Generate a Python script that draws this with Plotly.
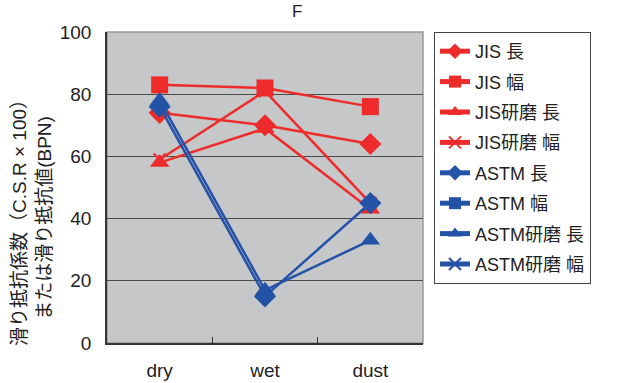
import plotly.graph_objects as go

categories = ["dry", "wet", "dust"]
series_names = ["JIS 長", "JIS 幅", "JIS研磨 長", "JIS研磨 幅",
                "ASTM 長", "ASTM 幅", "ASTM研磨 長", "ASTM研磨 幅"]
jis_long = [74, 70, 64]
jis_wide = [83, 82, 76]
jis_pol_long = [58, 69, 43]
jis_pol_wide = [59, 81, 45]
astm_long = [76, 15, 45]
astm_wide = [None, None, None]
astm_pol_long = [78, 17, 33]
astm_pol_wide = [None, None, None]
yticks = [0, 20, 40, 60, 80, 100]

values = [jis_long, jis_wide, jis_pol_long, jis_pol_wide,
          astm_long, astm_wide, astm_pol_long, astm_pol_wide]
RED = "#EE2B2B"
BLUE = "#2352A6"
colors = [RED] * 4 + [BLUE] * 4
symbols = ["diamond", "square", "triangle-up", "x-thin"] * 2
sizes = [17, 17, 17, 12] * 2

FONT = "Liberation Sans, Noto Sans CJK JP, sans-serif"

L, R, T, B = 107, 210, 32, 40
PW, PH = 633 - L - R, 383 - T - B

fig = go.Figure()
for i, (name, vals) in enumerate(zip(series_names, values)):
    fig.add_trace(go.Scatter(
        x=categories, y=vals, name=name, mode="lines+markers",
        line=dict(color=colors[i], width=2.5),
        marker=dict(symbol=symbols[i], size=sizes[i], color=colors[i],
                    line=dict(color=colors[i], width=2 if symbols[i] == "x-thin" else 0)),
        legendgroup=f"g{i}",
    ))

fig.update_layout(
    width=633, height=383,
    margin=dict(l=L, r=R, t=T, b=B, autoexpand=False),
    paper_bgcolor="white",
    plot_bgcolor="#C6C7C9",
    font=dict(family=FONT, size=18, color="#222222"),
    showlegend=True,
    legend=dict(
        x=(434 - L) / PW, y=1.0, xanchor="left", yanchor="top",
        bordercolor="#444444", borderwidth=1,
        font=dict(size=18, family=FONT),
        tracegroupgap=4,
        itemsizing="constant",
    ),
    annotations=[
        dict(text="F", x=(297 - L) / PW, y=(383 - B - 12) / PH, xref="paper", yref="paper",
             showarrow=False, yanchor="middle", font=dict(size=17, family=FONT)),
        dict(text="滑り抵抗係数（C.S.R × 100）<br>または滑り抵抗値(BPN)",
             x=(32 - L) / PW, y=(383 - B - 218) / PH, xref="paper", yref="paper",
             showarrow=False, textangle=-90, xanchor="center", yanchor="middle",
             font=dict(size=19, family=FONT)),
    ],
)

fig.update_xaxes(
    type="category", range=[-0.5, 2.5], automargin=False,
    showline=True, linecolor="#333333", linewidth=1.5, mirror=False,
    ticks="inside", tickson="boundaries", ticklen=6, tickcolor="#333333",
    showgrid=False, ticklabelstandoff=9,
    tickfont=dict(size=19, family=FONT),
)
fig.update_yaxes(
    range=[0, 100], tickvals=yticks, automargin=False,
    showline=True, linecolor="#333333", linewidth=1.5,
    showgrid=True, gridcolor="#4a4a4a", gridwidth=1,
    ticks="", ticklabelstandoff=10,
    tickfont=dict(size=19, family=FONT),
    zeroline=False,
)
fig.add_shape(type="rect", xref="paper", yref="paper", x0=0, y0=0, x1=1, y1=1,
              line=dict(color="#999999", width=1.5), layer="below")

fig.write_html("out.html")
